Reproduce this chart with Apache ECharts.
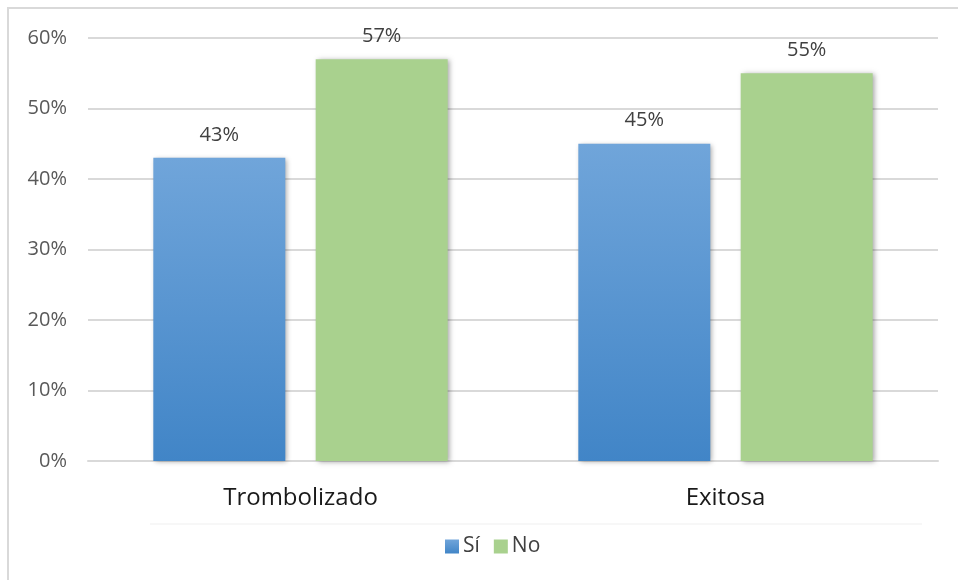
<!DOCTYPE html>
<html>
<head>
<meta charset="utf-8">
<script src="https://cdn.jsdelivr.net/npm/echarts@6/dist/echarts.min.js"></script>
<style>
  html, body { margin: 0; padding: 0; background: #fff; }
  #chart { width: 958px; height: 580px; }
</style>
</head>
<body>
<div id="chart"></div>
<script>
// Data
const categories = ['Trombolizado', 'Exitosa']
const siValues = [43, 45]
const noValues = [57, 55]
const yTicks = [0, 10, 20, 30, 40, 50, 60]

const chart = echarts.init(document.getElementById('chart'))

const barLabel = {
  show: true,
  position: 'top',
  distance: 13,
  formatter: p => p.value + '%',
  fontFamily: 'Open Sans',
  fontSize: 20,
  color: '#404040'
}

const barShadow = {
  shadowColor: 'rgba(0,0,0,0.35)',
  shadowBlur: 5,
  shadowOffsetX: 2,
  shadowOffsetY: 1
}

chart.setOption({
  animation: false,
  graphic: [
    {
      type: 'polyline',
      shape: { points: [[8, 580], [8, 8], [958, 8]] },
      style: { stroke: '#d9d9d9', lineWidth: 2, fill: null }
    },
    {
      type: 'line',
      shape: { x1: 150, y1: 524, x2: 922, y2: 524 },
      style: { stroke: '#efefef', lineWidth: 1 }
    }
  ],
  legend: {
    data: ['Sí', 'No'],
    bottom: 18,
    left: 440,
    itemWidth: 14,
    itemHeight: 14,
    itemGap: 14,
    icon: 'rect',
    textStyle: { fontFamily: 'Open Sans', fontSize: 21, color: '#404040', padding: [0, 0, 0, -1] }
  },
  grid: { left: 88, right: 20, top: 38, bottom: 119 },
  xAxis: {
    type: 'category',
    data: categories,
    axisTick: { show: false },
    axisLine: { lineStyle: { color: '#d9d9d9', width: 2 } },
    axisLabel: {
      margin: 25,
      fontFamily: 'Open Sans',
      fontSize: 24,
      color: '#1a1a1a'
    }
  },
  yAxis: {
    type: 'value',
    min: yTicks[0],
    max: yTicks[yTicks.length - 1],
    interval: 10,
    axisLine: { show: false },
    axisTick: { show: false },
    axisLabel: {
      formatter: '{value}%',
      margin: 21,
      fontFamily: 'Open Sans',
      fontSize: 20,
      color: '#595959'
    },
    splitLine: { lineStyle: { color: '#d9d9d9', width: 2 } }
  },
  series: [
    {
      name: 'Sí',
      type: 'bar',
      data: siValues,
      barWidth: 132,
      barGap: '23%',
      label: barLabel,
      itemStyle: {
        color: new echarts.graphic.LinearGradient(0, 0, 0, 1, [
          { offset: 0, color: '#70a5da' },
          { offset: 1, color: '#4185c7' }
        ]),
        ...barShadow
      }
    },
    {
      name: 'No',
      type: 'bar',
      data: noValues,
      barWidth: 132,
      label: barLabel,
      itemStyle: { color: '#a9d18e', ...barShadow }
    }
  ]
})
</script>
</body>
</html>
